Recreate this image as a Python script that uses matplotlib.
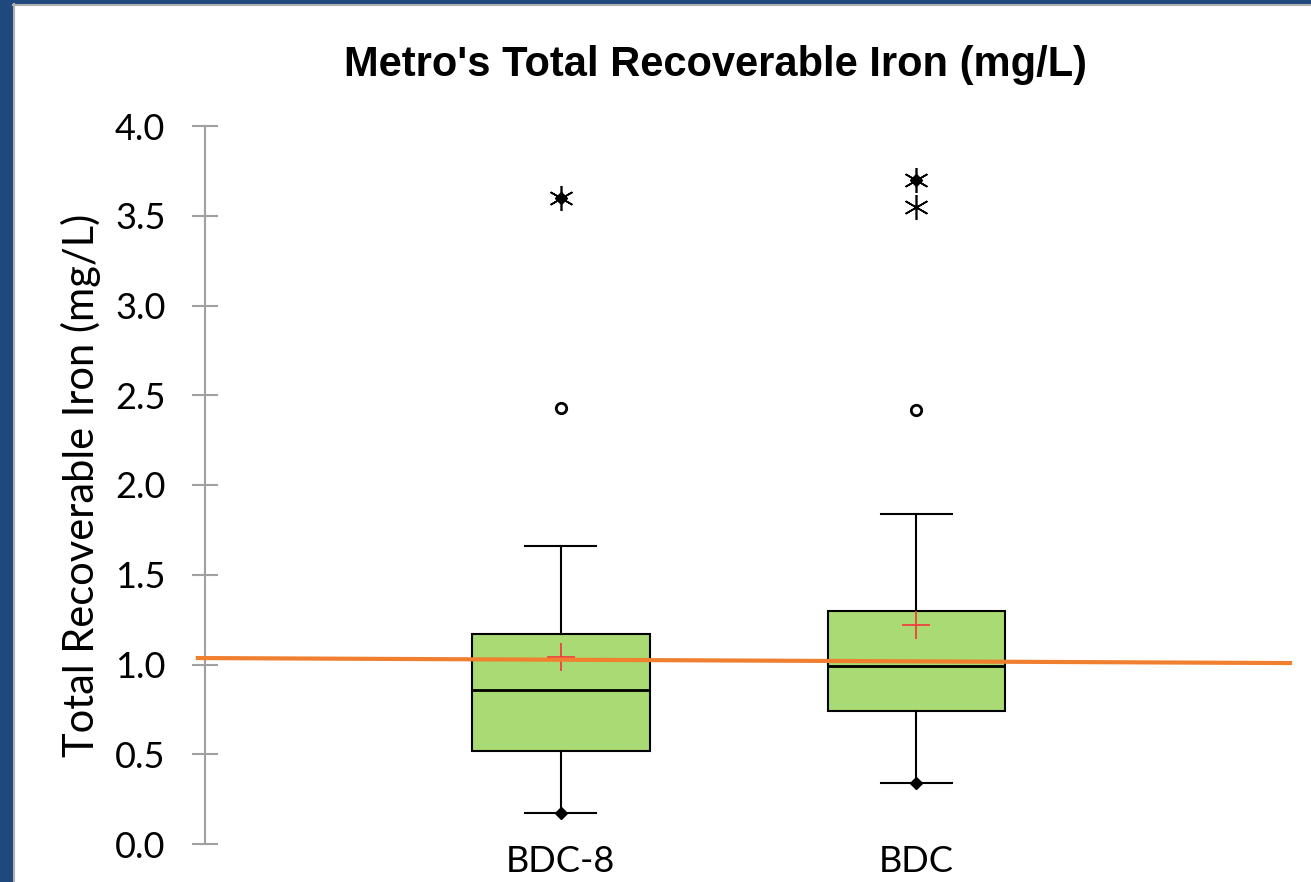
import matplotlib
matplotlib.use("Agg")
import matplotlib.pyplot as plt
from matplotlib.patches import Rectangle

# box statistics (mg/L)
sites = ["BDC-8", "BDC"]
q1 = [0.52, 0.74]
median = [0.86, 0.99]
q3 = [1.17, 1.30]
whisker_low = [0.17, 0.34]
whisker_high = [1.66, 1.84]
means = [1.04, 1.22]
mild_outliers = [[2.43], [2.42]]
extreme_outliers = [[3.60], [3.70, 3.55]]
minimum = [0.17, 0.34]
maximum = [3.60, 3.70]
# orange reference line (start, end)
ref_x = [-0.02, 3.05]
ref_y = [1.036, 1.008]

fig = plt.figure(figsize=(13.11, 8.82), dpi=100)

# slide frame
fig.patches.append(Rectangle((0, 0), 12 / 1311, 1, transform=fig.transFigure,
                             color="#1F497D", zorder=0))
fig.patches.append(Rectangle((0, 1 - 4 / 882), 1, 4 / 882, transform=fig.transFigure,
                             color="#1F497D", zorder=0))
fig.add_artist(plt.Line2D([13.5 / 1311, 13.5 / 1311], [0, 1 - 4 / 882], transform=fig.transFigure,
                          color="#B0B0B0", lw=1.5))
fig.add_artist(plt.Line2D([13 / 1311, 1], [1 - 5 / 882, 1 - 5 / 882], transform=fig.transFigure,
                          color="#B0B0B0", lw=1.5))

ax = fig.add_axes([205 / 1311, 38 / 882, (1290 - 205) / 1311, (844 - 126) / 882])

positions = [1, 2]
stats = []
for i, s in enumerate(sites):
    stats.append(dict(label=s, q1=q1[i], med=median[i], q3=q3[i],
                      whislo=whisker_low[i], whishi=whisker_high[i],
                      mean=means[i], fliers=[]))

ax.bxp(stats, positions=positions, widths=0.5, patch_artist=True,
       showmeans=True, showfliers=False,
       boxprops=dict(facecolor="#A9DA74", edgecolor="black", linewidth=1.5),
       medianprops=dict(color="black", linewidth=2),
       whiskerprops=dict(color="black", linewidth=1.5),
       capprops=dict(color="black", linewidth=1.5),
       capwidths=0.2,
       meanprops=dict(marker="+", markersize=20, markeredgecolor="#F04040",
                      markeredgewidth=1.3, linestyle="none"))

for i, p in enumerate(positions):
    ax.plot([p] * len(mild_outliers[i]), mild_outliers[i], "o", ms=7.5, mfc="white",
            mec="black", mew=2)
    ax.plot([p] * len(extreme_outliers[i]), extreme_outliers[i], ls="none",
            marker=(6, 2, 0), ms=18, mec="black", mew=1.2)
    ax.plot([p, p], [minimum[i], maximum[i]], ls="none", marker="D", ms=6.5,
            color="black", zorder=5)

ax.plot(ref_x, ref_y, color="#F08030", lw=3, clip_on=False, zorder=6)

ax.set_xlim(0, 3.05)
ax.set_ylim(0, 4)
ax.set_yticks([0, 0.5, 1.0, 1.5, 2.0, 2.5, 3.0, 3.5, 4.0])
ax.set_yticklabels(["0.0", "0.5", "1.0", "1.5", "2.0", "2.5", "3.0", "3.5", "4.0"])
ax.set_xticks(positions)
ax.set_xticklabels(sites)
for s in ["top", "right", "bottom"]:
    ax.spines[s].set_visible(False)
ax.spines["left"].set_color("#A0A0A0")
ax.spines["left"].set_linewidth(1.5)
ax.tick_params(axis="y", direction="inout", length=19, width=1.5, color="#A0A0A0",
               pad=19, labelsize=26)
ax.tick_params(axis="x", length=0, pad=1, labelsize=26)
for lbl in ax.get_xticklabels() + ax.get_yticklabels():
    lbl.set_fontfamily("Lato")
ax.set_ylabel("Total Recoverable Iron (mg/L)", fontsize=30, family="Lato", labelpad=10)

fig.text(715 / 1311, 1 - 65 / 882, "Metro's Total Recoverable Iron (mg/L)",
         ha="center", va="center", fontsize=30, fontweight="bold", family="Liberation Sans")

fig.savefig("out.png", dpi=100)
